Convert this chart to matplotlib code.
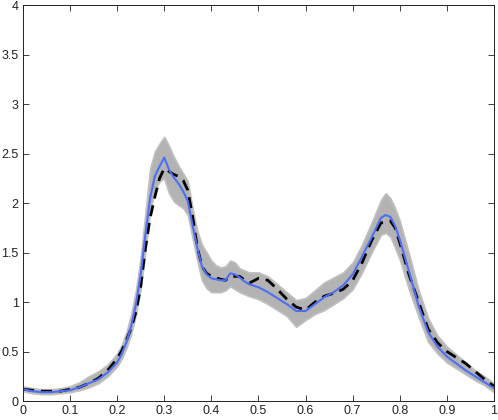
import numpy as np
import matplotlib
matplotlib.use('Agg')
import matplotlib.pyplot as plt

plt.rcParams['font.family'] = ['Liberation Sans', 'DejaVu Sans']

# sample positions
x = [0, 0.02, 0.04, 0.06, 0.08, 0.1, 0.12, 0.14, 0.16, 0.18,
     0.2, 0.21, 0.22, 0.23, 0.24, 0.25, 0.26, 0.27, 0.28, 0.29,
     0.3, 0.31, 0.32, 0.33, 0.34, 0.35, 0.36, 0.37, 0.38, 0.39,
     0.4, 0.41, 0.42, 0.43, 0.44, 0.45, 0.46, 0.47, 0.48, 0.5,
     0.52, 0.54, 0.56, 0.58, 0.6, 0.62, 0.64, 0.66, 0.68, 0.7,
     0.72, 0.74, 0.76, 0.77, 0.78, 0.79, 0.8, 0.82, 0.84, 0.86,
     0.88, 0.9, 0.92, 0.94, 0.96, 0.98, 1.0]

# blue estimate
blue = [0.12, 0.10, 0.09, 0.09, 0.10, 0.11, 0.14, 0.18, 0.22, 0.29,
        0.39, 0.48, 0.60, 0.76, 0.98, 1.28, 1.68, 2.05, 2.27, 2.37,
        2.46, 2.34, 2.26, 2.20, 2.12, 2.02, 1.78, 1.55, 1.36, 1.28,
        1.24, 1.23, 1.22, 1.22, 1.29, 1.28, 1.25, 1.21, 1.18, 1.15,
        1.10, 1.04, 0.98, 0.91, 0.91, 0.98, 1.05, 1.10, 1.17, 1.28,
        1.46, 1.65, 1.85, 1.88, 1.86, 1.77, 1.63, 1.30, 0.96, 0.70,
        0.55, 0.45, 0.38, 0.31, 0.25, 0.19, 0.13]

# gray ensemble envelope
upper = [0.15, 0.13, 0.12, 0.12, 0.13, 0.15, 0.19, 0.25, 0.30, 0.37,
         0.48, 0.57, 0.70, 0.88, 1.12, 1.45, 1.90, 2.35, 2.52, 2.60,
         2.67, 2.58, 2.47, 2.38, 2.30, 2.22, 1.95, 1.72, 1.58, 1.50,
         1.42, 1.37, 1.35, 1.36, 1.42, 1.40, 1.34, 1.32, 1.30, 1.30,
         1.26, 1.18, 1.10, 1.02, 1.04, 1.12, 1.20, 1.25, 1.30, 1.40,
         1.58, 1.80, 2.03, 2.10, 2.05, 1.95, 1.82, 1.48, 1.12, 0.84,
         0.66, 0.55, 0.47, 0.39, 0.31, 0.25, 0.18]
lower = [0.10, 0.08, 0.07, 0.07, 0.08, 0.09, 0.11, 0.14, 0.18, 0.25,
         0.35, 0.43, 0.54, 0.68, 0.88, 1.13, 1.52, 1.92, 2.12, 2.22,
         2.25, 2.10, 2.02, 1.98, 1.95, 1.88, 1.65, 1.42, 1.22, 1.14,
         1.10, 1.10, 1.10, 1.12, 1.16, 1.13, 1.10, 1.08, 1.06, 1.03,
         0.98, 0.92, 0.86, 0.75, 0.82, 0.88, 0.92, 0.98, 1.04, 1.13,
         1.30, 1.50, 1.68, 1.70, 1.66, 1.55, 1.43, 1.12, 0.85, 0.60,
         0.48, 0.39, 0.33, 0.27, 0.21, 0.16, 0.09]

# black dashed reference
xd = [0, 0.02, 0.04, 0.06, 0.08, 0.1, 0.12, 0.14, 0.16, 0.18,
      0.2, 0.21, 0.22, 0.23, 0.24, 0.25, 0.26, 0.27, 0.28, 0.29,
      0.3, 0.31, 0.32, 0.33, 0.34, 0.35, 0.36, 0.37, 0.38, 0.39,
      0.4, 0.42, 0.43, 0.44, 0.46, 0.48, 0.5, 0.52, 0.54, 0.56,
      0.58, 0.6, 0.62, 0.64, 0.66, 0.68, 0.7, 0.72, 0.74, 0.76,
      0.78, 0.79, 0.8, 0.82, 0.84, 0.86, 0.88, 0.9, 0.92, 0.94,
      0.96, 0.98, 1.0]
dashed = [0.12, 0.11, 0.10, 0.10, 0.10, 0.12, 0.14, 0.18, 0.23, 0.31,
          0.43, 0.51, 0.62, 0.74, 0.90, 1.16, 1.54, 1.85, 2.06, 2.25,
          2.35, 2.32, 2.29, 2.27, 2.23, 2.13, 1.87, 1.56, 1.36, 1.29,
          1.26, 1.23, 1.22, 1.26, 1.26, 1.19, 1.24, 1.22, 1.13, 1.03,
          0.95, 0.92, 1.00, 1.06, 1.09, 1.13, 1.22, 1.40, 1.62, 1.80,
          1.82, 1.75, 1.60, 1.27, 1.00, 0.73, 0.59, 0.50, 0.44, 0.38,
          0.30, 0.22, 0.15]

xticks = [0, 0.1, 0.2, 0.3, 0.4, 0.5, 0.6, 0.7, 0.8, 0.9, 1]
xticklabels = ['0', '0.1', '0.2', '0.3', '0.4', '0.5', '0.6', '0.7', '0.8', '0.9', '1']
yticks = [0, 0.5, 1, 1.5, 2, 2.5, 3, 3.5, 4]
yticklabels = ['0', '0.5', '1', '1.5', '2', '2.5', '3', '3.5', '4']

fig = plt.figure(figsize=(4.98, 4.2), dpi=100)
ax = fig.add_axes([0.046, 0.045, 0.946, 0.943])

ax.fill_between(x, lower, upper, color='#b3b3b3', linewidth=1.2, edgecolor='#c0c0c0')
ax.plot(xd, dashed, color='black', linewidth=2, linestyle=(0, (4, 2.5)))
ax.plot(x, blue, color='#4d6ef5', linewidth=1.5)

ax.set_xlim(0, 1)
ax.set_ylim(0, 4)
ax.set_xticks(xticks)
ax.set_xticklabels(xticklabels)
ax.set_yticks(yticks)
ax.set_yticklabels(yticklabels)
ax.tick_params(direction='in', top=True, right=True, length=4, width=0.6,
               labelsize=9, pad=3, colors='#222222')
for s in ax.spines.values():
    s.set_linewidth(0.7)
    s.set_color('#222222')

fig.savefig('out.png', dpi=100)
